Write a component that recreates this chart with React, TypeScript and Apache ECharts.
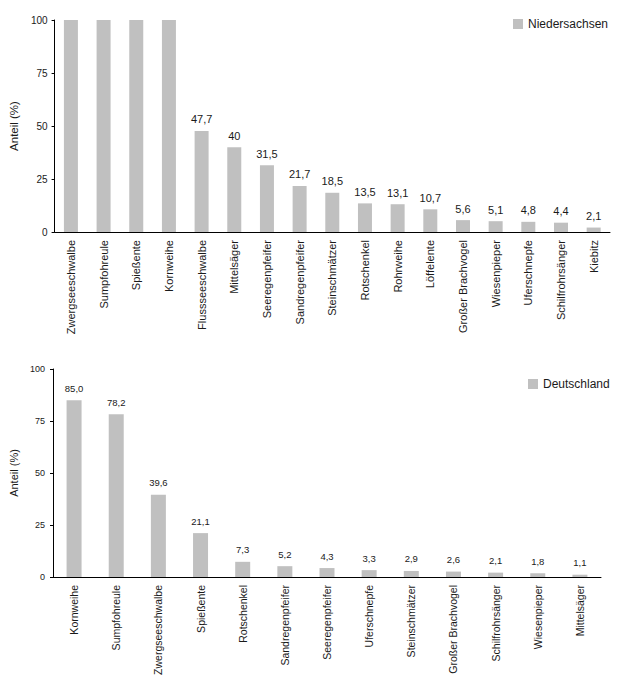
import React, { useEffect, useRef } from "react";
import * as echarts from "echarts";

const topCategories = ["Zwergseeschwalbe", "Sumpfohreule", "Spießente", "Kornweihe", "Flussseeschwalbe", "Mittelsäger", "Seeregenpfeifer", "Sandregenpfeifer", "Steinschmätzer", "Rotschenkel", "Rohrweihe", "Löffelente", "Großer Brachvogel", "Wiesenpieper", "Uferschnepfe", "Schilfrohrsänger", "Kiebitz"];
const topValues = [100, 100, 100, 100, 47.7, 40, 31.5, 21.7, 18.5, 13.5, 13.1, 10.7, 5.6, 5.1, 4.8, 4.4, 2.1];
const bottomCategories = ["Kornweihe", "Sumpfohreule", "Zwergseeschwalbe", "Spießente", "Rotschenkel", "Sandregenpfeifer", "Seeregenpfeifer", "Uferschnepfe", "Steinschmätzer", "Großer Brachvogel", "Schilfrohrsänger", "Wiesenpieper", "Mittelsäger"];
const bottomValues = [85.0, 78.2, 39.6, 21.1, 7.3, 5.2, 4.3, 3.3, 2.9, 2.6, 2.1, 1.8, 1.1];
const yTicks = [0, 25, 50, 75, 100];
const seriesNames = ["Niedersachsen", "Deutschland"];
const yAxisName = "Anteil (%)";

const FONT = "'Liberation Sans', Arial, sans-serif";
const BAR = "#c0c0c0";
const TXT = "#1a1a1a";

export default function App() {
  const ref = useRef<HTMLDivElement>(null);
  useEffect(() => {
    if (!ref.current) return;
    const chart = echarts.init(ref.current, null, { renderer: "svg" });
    const yAxisBase = (fs: number, margin: number, nameFs: number) => ({
      type: "value",
      min: yTicks[0],
      max: yTicks[yTicks.length - 1],
      interval: 25,
      name: yAxisName,
      nameLocation: "middle",
      nameGap: 34,
      nameTextStyle: { fontFamily: FONT, fontSize: nameFs, color: TXT },
      axisLine: { show: true, lineStyle: { color: "#000", width: 1 } },
      axisTick: { show: true, length: 3, lineStyle: { color: "#000" } },
      axisLabel: { fontFamily: FONT, fontSize: fs, color: TXT, margin: margin },
      splitLine: { show: false },
    });
    const xAxisBase = (cats: string[], fs: number, gridIndex: number) => ({
      type: "category",
      gridIndex,
      data: cats,
      axisLine: { show: true, lineStyle: { color: "#000", width: 1 } },
      axisTick: { show: false },
      axisLabel: { rotate: 90, fontFamily: FONT, fontSize: fs, color: TXT, margin: 8, interval: 0 },
    });
    chart.setOption({
      animation: false,
      backgroundColor: "#fff",
      grid: [
        { left: 52, top: 20, width: 558, height: 212 },
        { left: 52, top: 369, width: 549, height: 208 },
      ],
      legend: [
        {
          data: [seriesNames[0]], left: 513, top: 18, padding: 0,
          itemWidth: 10, itemHeight: 10, icon: "rect",
          textStyle: { fontFamily: FONT, fontSize: 12, color: TXT },
        },
        {
          data: [seriesNames[1]], left: 528, top: 378, padding: 0,
          itemWidth: 10, itemHeight: 10, icon: "rect",
          textStyle: { fontFamily: FONT, fontSize: 12, color: TXT },
        },
      ],
      xAxis: [xAxisBase(topCategories, 11, 0), xAxisBase(bottomCategories, 10.5, 1)],
      yAxis: [
        { ...yAxisBase(10, 7, 11.5), gridIndex: 0 },
        { ...yAxisBase(9, 8, 11), gridIndex: 1 },
      ],
      series: [
        {
          name: seriesNames[0], type: "bar", xAxisIndex: 0, yAxisIndex: 0,
          data: topValues, barWidth: 14, itemStyle: { color: BAR },
          label: {
            show: true, position: "top", distance: 6, fontFamily: FONT, fontSize: 11, color: TXT,
            formatter: (p: any) => (p.value >= 100 ? "" : String(p.value).replace(".", ",")),
          },
        },
        {
          name: seriesNames[1], type: "bar", xAxisIndex: 1, yAxisIndex: 1,
          data: bottomValues, barWidth: 15, itemStyle: { color: BAR },
          label: {
            show: true, position: "top", distance: 7, fontFamily: FONT, fontSize: 9.5, color: TXT,
            formatter: (p: any) => Number(p.value).toFixed(1).replace(".", ","),
          },
        },
      ],
    });
    return () => chart.dispose();
  }, []);
  return <div ref={ref} style={{ position: "absolute", left: 0, top: 0, width: 620, height: 679 }} />;
}
